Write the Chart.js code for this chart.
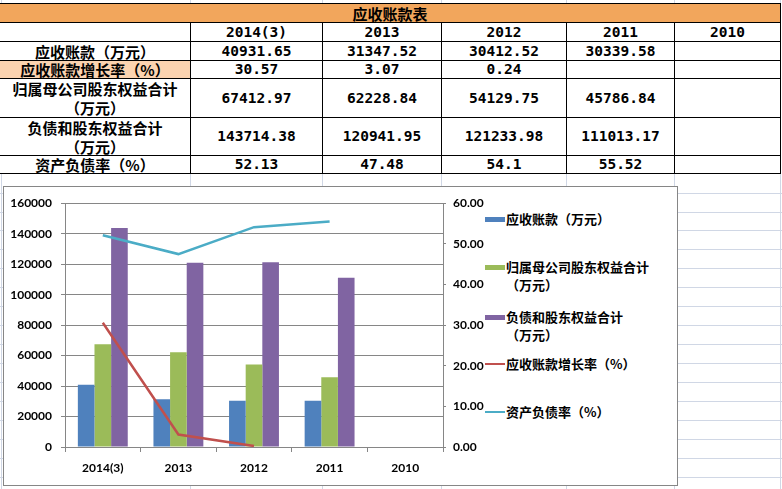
<!DOCTYPE html>
<html>
<head>
<meta charset="utf-8">
<script src="https://cdn.jsdelivr.net/npm/chart.js@4.4.1/dist/chart.umd.min.js"></script>
<style>
html, body { margin: 0; padding: 0; background: #fff; }
body { width: 782px; height: 489px; position: relative; overflow: hidden; font-family: "Noto Sans CJK SC", sans-serif; }
.gl { position: absolute; background: #D0D7E5; }
.cell { position: absolute; box-sizing: border-box; border-right: 1px solid #000; border-bottom: 1px solid #000;
  display: flex; align-items: center; justify-content: center; text-align: center;
  font-weight: bold; font-size: 15px; line-height: 19px; color: #000; background: #fff; }
.num { font-family: "DejaVu Sans Mono", monospace; font-size: 14.5px; }
#box { position: absolute; left: 3px; top: 186px; width: 675px; height: 300px; box-sizing: border-box; border: 1px solid #868686; background: #fff; }
#chart { position: absolute; left: 4px; top: 187px; }
.lg { position: absolute; left: 506px; font-weight: bold; font-size: 13px; line-height: 18px; color: #000; white-space: nowrap; }
.sw { position: absolute; left: 485px; width: 20px; }
</style>
</head>
<body>
<canvas id="chart" width="673" height="298"></canvas>
<script>
// data
const tableTitle = '应收账款表';
const years = ['2014(3)', '2013', '2012', '2011', '2010'];
const receivables = [40931.65, 31347.52, 30412.52, 30339.58, null];
const receivableGrowth = [30.57, 3.07, 0.24, null, null];
const parentEquity = [67412.97, 62228.84, 54129.75, 45786.84, null];
const liabEquityTotal = [143714.38, 120941.95, 121233.98, 111013.17, null];
const debtRatio = [52.13, 47.48, 54.1, 55.52, null];

const rowNames = ['应收账款（万元）', '应收账款增长率（%）', '归属母公司股东权益合计<br>（万元）', '负债和股东权益合计<br>（万元）', '资产负债率（%）'];
const legendNames = ['应收账款（万元）', '归属母公司股东权益合计<br>（万元）', '负债和股东权益合计<br>（万元）', '应收账款增长率（%）', '资产负债率（%）'];

const leftMax = 160000, leftStep = 20000;
const rightMax = 60, rightStep = 10;

// excel sheet background grid
const colLines = [0, 190, 322, 441, 566, 674, 780];
const rowLines = [3, 22, 41, 60, 78, 117, 155, 173];
function addDiv(cls, css, html) {
  const d = document.createElement('div');
  d.className = cls;
  Object.assign(d.style, css);
  if (html !== undefined) d.innerHTML = html;
  document.body.insertBefore(d, document.getElementById('chart'));
  return d;
}
colLines.slice(1).forEach(x => addDiv('gl', {left: x + 'px', top: '0px', width: '1px', height: '489px'}));
addDiv('gl', {left: '1px', top: '0px', width: '1px', height: '489px'});
for (let y = 192.6; y < 489; y += 18.93) {
  addDiv('gl', {left: '0px', top: Math.round(y) + 'px', width: '782px', height: '1px'});
}

// table
addDiv('', {position: 'absolute', left: '0px', top: rowLines[0] + 'px', width: '781px', height: '1px', background: '#000'});
addDiv('cell', {left: '0px', top: (rowLines[0] + 1) + 'px', width: '781px', height: (rowLines[1] - rowLines[0]) + 'px', background: '#F2A65C'}, tableTitle);

const rows = [
  ['', years],
  [rowNames[0], receivables],
  [rowNames[1], receivableGrowth],
  [rowNames[2], parentEquity],
  [rowNames[3], liabEquityTotal],
  [rowNames[4], debtRatio]
];
rows.forEach((r, i) => {
  const top = rowLines[i + 1] + 1;
  const h = rowLines[i + 2] - rowLines[i + 1];
  addDiv('cell', {left: '0px', top: top + 'px', width: (colLines[1] + 1) + 'px', height: h + 'px',
    background: i === 2 ? '#FBD3B0' : '#fff'}, r[0]);
  r[1].forEach((v, j) => {
    const left = colLines[j + 1] + 1;
    addDiv('cell num', {left: left + 'px', top: top + 'px', width: (colLines[j + 2] - colLines[j + 1]) + 'px', height: h + 'px'},
      v === null ? '' : String(v));
  });
});

// chart frame
addDiv('', {position: 'absolute', left: '3px', top: '186px', width: '675px', height: '300px', boxSizing: 'border-box', border: '1px solid #868686', background: '#fff'});

const colors = ['#4F81BD', '#9BBB59', '#8064A2', '#C0504D', '#4BACC6'];

// legend
const legendY = [219, 267, 317, 364, 412];
legendNames.forEach((name, i) => {
  const isLine = i >= 3;
  const h = isLine ? 2 : 5;
  addDiv('sw', {top: (legendY[i] - h / 2) + 'px', height: h + 'px', background: colors[i]});
  addDiv('lg', {top: (legendY[i] - 9) + 'px'}, name);
});

const axisFont = {family: 'Lato', weight: 'bold', size: 12};
const gridColor = '#868686';

const ctx = document.getElementById('chart');
new Chart(ctx, {
  type: 'bar',
  data: {
    labels: years,
    datasets: [
      {label: '应收账款（万元）', data: receivables, backgroundColor: colors[0], yAxisID: 'y', order: 1},
      {label: '归属母公司股东权益合计（万元）', data: parentEquity, backgroundColor: colors[1], yAxisID: 'y', order: 1},
      {label: '负债和股东权益合计（万元）', data: liabEquityTotal, backgroundColor: colors[2], yAxisID: 'y', order: 1},
      {type: 'line', label: '应收账款增长率（%）', data: receivableGrowth, borderColor: colors[3], backgroundColor: colors[3],
        borderWidth: 2.5, pointRadius: 0, tension: 0, yAxisID: 'y1', order: 0},
      {type: 'line', label: '资产负债率（%）', data: debtRatio, borderColor: colors[4], backgroundColor: colors[4],
        borderWidth: 2.5, pointRadius: 0, tension: 0, yAxisID: 'y1', order: 0}
    ]
  },
  options: {
    responsive: false,
    animation: false,
    layout: {padding: {top: 11, left: 0, right: 0, bottom: 0}},
    datasets: {bar: {categoryPercentage: 0.66, barPercentage: 1}},
    plugins: {legend: {display: false}, tooltip: {enabled: false}},
    scales: {
      x: {
        grid: {drawOnChartArea: false, tickLength: 5, color: gridColor},
        border: {color: gridColor},
        ticks: {padding: 9, color: '#000', font: axisFont},
        afterFit: s => { s.height = 38; }
      },
      y: {
        position: 'left', min: 0, max: leftMax,
        ticks: {stepSize: leftStep, padding: 9, color: '#000', font: axisFont, callback: v => String(v)},
        grid: {color: gridColor, tickLength: 4},
        border: {color: gridColor},
        afterFit: s => { s.width = 61; }
      },
      y1: {
        position: 'right', min: 0, max: rightMax,
        ticks: {stepSize: rightStep, padding: 7, color: '#000', font: axisFont, callback: v => v.toFixed(2)},
        grid: {drawOnChartArea: false, tickLength: 3, color: gridColor},
        border: {color: gridColor},
        afterFit: s => { s.width = 234; }
      }
    }
  }
});
</script>
</body>
</html>
